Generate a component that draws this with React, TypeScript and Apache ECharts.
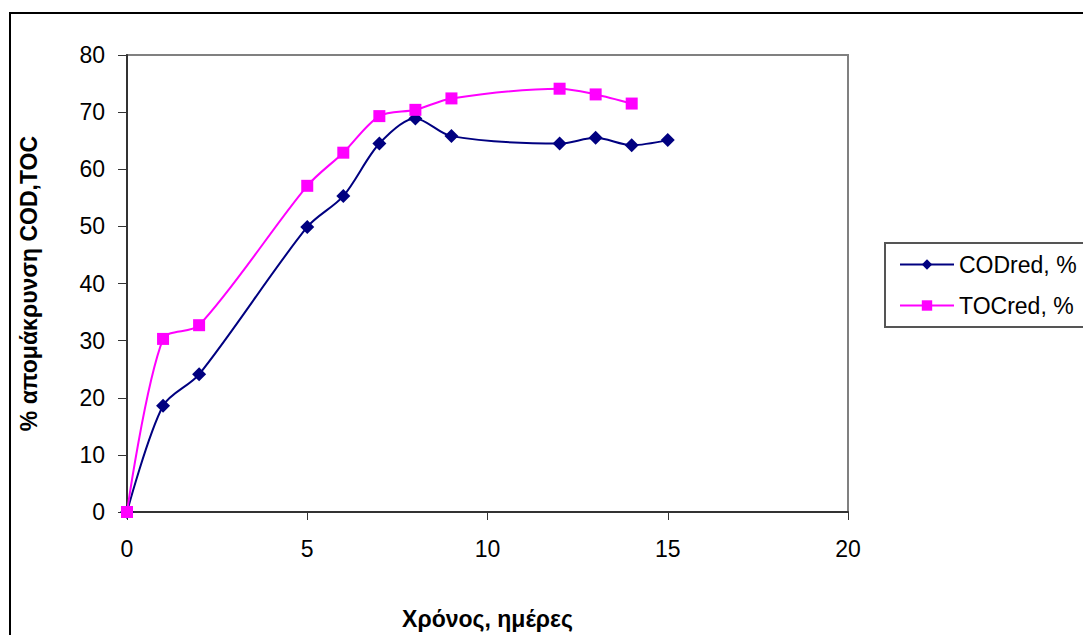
import React, { useEffect, useRef } from "react";
import * as echarts from "echarts";

const days = [0, 1, 2, 5, 6, 7, 8, 9, 12, 13, 14, 15];
const codRed = [0, 18.6, 24.1, 49.9, 55.3, 64.5, 68.9, 65.8, 64.5, 65.5, 64.2, 65.1];
const tocDays = [0, 1, 2, 5, 6, 7, 8, 9, 12, 13, 14];
const tocRed = [0, 30.3, 32.7, 57.1, 62.9, 69.3, 70.4, 72.4, 74.1, 73.1, 71.5];
const seriesNames = ["CODred, %", "TOCred, %"];
const xTitle = "Χρόνος, ημέρες";
const yTitle = "% απομάκρυνση COD,TOC";

export default function App() {
  const ref = useRef<HTMLDivElement>(null);
  useEffect(() => {
    if (!ref.current) return;
    const chart = echarts.init(ref.current, null, { renderer: "svg" });
    const font = "'Liberation Sans', Arial, sans-serif";
    chart.setOption({
      animation: false,
      backgroundColor: "#ffffff",
      textStyle: { fontFamily: font },
      graphic: [
        {
          type: "rect",
          shape: { x: 10, y: 13, width: 1200, height: 800 },
          style: { fill: "none", stroke: "#000", lineWidth: 2 },
          silent: true,
        },
      ],
      grid: {
        left: 127,
        top: 55,
        right: 235,
        bottom: 122,
        show: true,
        borderColor: "#808080",
        borderWidth: 2,
        backgroundColor: "transparent",
      },
      legend: {
        orient: "vertical",
        left: 885,
        top: 243,
        data: seriesNames,
        padding: [10, 40, 10, 14],
        itemWidth: 54,
        itemHeight: 13,
        itemGap: 18,
        borderColor: "#555",
        borderWidth: 2,
        backgroundColor: "#fff",
        textStyle: { fontFamily: font, fontSize: 23, color: "#000", padding: [0, 0, 0, 0] },
      },
      xAxis: {
        type: "value",
        min: 0,
        max: 20,
        interval: 5,
        name: xTitle,
        nameLocation: "middle",
        nameGap: 95,
        nameTextStyle: { fontFamily: font, fontSize: 23, fontWeight: "bold", color: "#000" },
        axisLine: { show: true, onZero: false, lineStyle: { color: "#333", width: 2 } },
        axisTick: { show: true, length: 8, lineStyle: { color: "#333" } },
        axisLabel: { fontFamily: font, fontSize: 23, color: "#000", margin: 25 },
        splitLine: { show: false },
      },
      yAxis: {
        type: "value",
        min: 0,
        max: 80,
        interval: 10,
        name: yTitle,
        nameLocation: "middle",
        nameGap: 87,
        nameRotate: 90,
        nameTextStyle: { fontFamily: font, fontSize: 23, fontWeight: "bold", color: "#000" },
        axisLine: { show: true, lineStyle: { color: "#333", width: 2 } },
        axisTick: { show: true, length: 9, lineStyle: { color: "#333" } },
        axisLabel: { fontFamily: font, fontSize: 23, color: "#000", margin: 22 },
        splitLine: { show: false },
      },
      series: [
        {
          name: seriesNames[0],
          type: "line",
          data: days.map((d, i) => [d, codRed[i]]),
          smooth: 0.3,
          symbol: "diamond",
          symbolSize: 14,
          itemStyle: { color: "#000080" },
          lineStyle: { color: "#000080", width: 2 },
          z: 3,
        },
        {
          name: seriesNames[1],
          type: "line",
          data: tocDays.map((d, i) => [d, tocRed[i]]),
          smooth: 0.3,
          symbol: "rect",
          symbolSize: 12,
          itemStyle: { color: "#FF00FF" },
          lineStyle: { color: "#FF00FF", width: 2 },
          z: 4,
        },
      ],
    });
    return () => chart.dispose();
  }, []);
  return (
    <div
      ref={ref}
      style={{ position: "fixed", left: 0, top: 0, width: 1083, height: 635, background: "#fff" }}
    />
  );
}
